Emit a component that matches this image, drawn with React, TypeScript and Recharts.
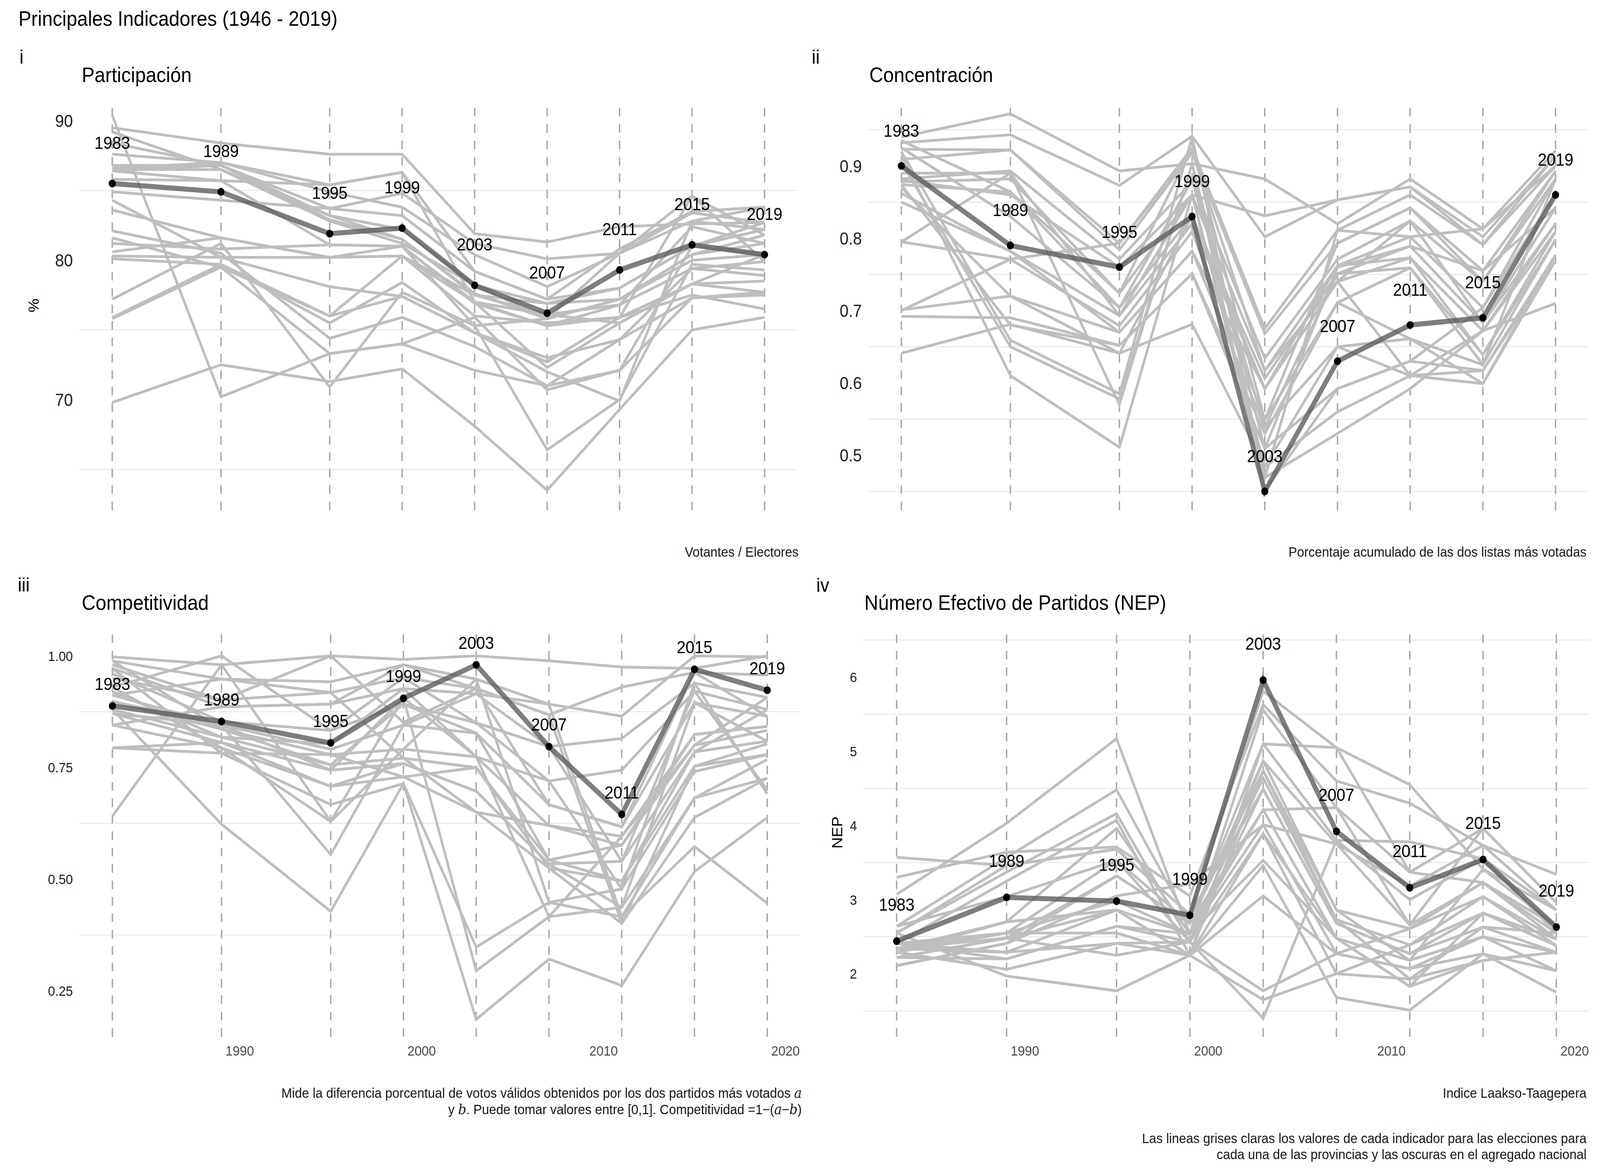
import React from "react";
import {
    LineChart,
    Line,
    XAxis,
    YAxis,
    ReferenceLine,
} from "recharts";

const FONT = "Liberation Sans, Arial, Helvetica, sans-serif";

const years = [1983, 1989, 1995, 1999, 2003, 2007, 2011, 2015, 2019];
const xTicks = [1990, 2000, 2010, 2020];

// Participación (%)
const participacionNacional = [85.5, 84.9, 81.9, 82.3, 78.2, 76.2, 79.3, 81.1, 80.4];
const participacionProvincias = [
    [89.5, 88.4, 87.6, 87.6, 81.9, 81.3, 82.4, 82.6, 82.7],
    [90.4, 70.2, 73.3, 74.0, 72.1, 71.0, 74.3, 77.3, 77.5],
    [69.8, 72.5, 71.3, 72.2, 68.1, 63.5, 69.3, 75.0, 75.9],
    [77.2, 81.2, 70.9, 77.7, 75.3, 66.4, 70.0, 79.7, 79.3],
    [75.9, 79.7, 76.0, 80.3, 77.0, 72.3, 75.5, 78.3, 77.7],
    [88.4, 86.8, 83.7, 83.2, 79.2, 77.2, 80.8, 83.5, 83.8],
    [87.6, 87.0, 84.9, 83.8, 80.4, 78.1, 80.5, 82.8, 82.2],
    [86.8, 86.8, 83.2, 81.5, 77.5, 76.9, 78.0, 81.0, 80.4],
    [86.5, 86.5, 82.8, 81.2, 78.2, 75.8, 77.2, 80.4, 81.2],
    [86.4, 85.7, 81.1, 81.0, 76.9, 75.3, 76.8, 79.4, 78.9],
    [85.8, 85.7, 85.4, 86.3, 77.0, 75.3, 75.9, 84.6, 79.9],
    [84.9, 84.3, 83.7, 84.8, 81.2, 80.1, 80.5, 84.6, 81.8],
    [84.3, 80.2, 78.1, 77.4, 74.8, 72.7, 75.9, 77.5, 76.5],
    [83.6, 81.6, 80.2, 81.0, 77.0, 76.1, 76.8, 82.4, 81.2],
    [82.1, 80.5, 74.4, 75.9, 73.8, 71.0, 72.1, 81.0, 82.2],
    [81.6, 79.5, 76.0, 77.4, 74.8, 73.0, 74.3, 79.4, 79.9],
    [81.2, 80.8, 81.1, 81.0, 75.3, 75.8, 80.5, 83.4, 82.7],
    [80.6, 81.6, 80.2, 80.3, 77.5, 76.1, 75.5, 78.3, 80.4],
    [80.1, 79.7, 75.5, 78.4, 74.8, 72.0, 69.9, 82.8, 83.8],
    [80.3, 80.2, 80.2, 80.3, 76.0, 75.5, 75.9, 78.3, 78.5],
    [86.6, 87.0, 85.4, 86.3, 79.2, 77.2, 78.0, 81.0, 82.7],
    [75.8, 79.5, 73.3, 74.0, 75.9, 70.7, 72.1, 77.3, 77.7],
    [89.2, 86.5, 83.2, 82.2, 78.2, 76.9, 77.2, 80.0, 80.4],
    [86.4, 86.8, 82.9, 81.5, 77.6, 75.8, 77.2, 80.4, 81.8],
];

// Concentración
const concentracionNacional = [0.9, 0.79, 0.76, 0.83, 0.45, 0.63, 0.68, 0.69, 0.86];
const concentracionProvincias = [
    [0.940, 0.972, 0.893, 0.903, 0.882, 0.820, 0.882, 0.813, 0.921],
    [0.932, 0.943, 0.873, 0.941, 0.802, 0.853, 0.871, 0.802, 0.914],
    [0.923, 0.922, 0.793, 0.925, 0.675, 0.811, 0.860, 0.791, 0.900],
    [0.909, 0.922, 0.784, 0.918, 0.668, 0.793, 0.842, 0.755, 0.893],
    [0.882, 0.893, 0.771, 0.878, 0.634, 0.771, 0.824, 0.740, 0.882],
    [0.878, 0.882, 0.724, 0.860, 0.617, 0.762, 0.802, 0.704, 0.882],
    [0.874, 0.864, 0.704, 0.831, 0.606, 0.751, 0.789, 0.683, 0.842],
    [0.862, 0.782, 0.693, 0.820, 0.592, 0.740, 0.773, 0.672, 0.820],
    [0.795, 0.771, 0.679, 0.809, 0.549, 0.711, 0.759, 0.639, 0.809],
    [0.701, 0.720, 0.670, 0.782, 0.538, 0.650, 0.661, 0.625, 0.798],
    [0.692, 0.690, 0.652, 0.751, 0.509, 0.592, 0.630, 0.617, 0.777],
    [0.641, 0.681, 0.641, 0.681, 0.484, 0.560, 0.610, 0.599, 0.769],
    [0.920, 0.659, 0.585, 0.940, 0.469, 0.530, 0.592, 0.672, 0.710],
    [0.905, 0.650, 0.578, 0.903, 0.451, 0.592, 0.630, 0.704, 0.862],
    [0.915, 0.610, 0.511, 0.860, 0.469, 0.811, 0.802, 0.813, 0.900],
    [0.890, 0.890, 0.570, 0.903, 0.509, 0.760, 0.789, 0.755, 0.842],
    [0.880, 0.860, 0.760, 0.860, 0.831, 0.853, 0.871, 0.791, 0.914],
    [0.700, 0.771, 0.793, 0.920, 0.617, 0.740, 0.824, 0.683, 0.820],
    [0.870, 0.720, 0.641, 0.831, 0.592, 0.762, 0.773, 0.639, 0.798],
    [0.925, 0.830, 0.704, 0.880, 0.538, 0.751, 0.759, 0.625, 0.882],
    [0.935, 0.864, 0.724, 0.925, 0.549, 0.793, 0.842, 0.740, 0.893],
    [0.795, 0.890, 0.693, 0.860, 0.484, 0.650, 0.610, 0.617, 0.769],
    [0.874, 0.680, 0.652, 0.751, 0.530, 0.711, 0.661, 0.599, 0.777],
    [0.850, 0.782, 0.670, 0.782, 0.592, 0.740, 0.610, 0.672, 0.809],
];

// Competitividad
const competitividadNacional = [0.888, 0.853, 0.805, 0.905, 0.98, 0.797, 0.645, 0.97, 0.923];
const competitividadProvincias = [
    [0.998, 0.980, 1.000, 0.992, 1.000, 0.989, 0.975, 0.972, 1.000],
    [0.989, 0.948, 0.942, 0.980, 0.948, 0.892, 0.865, 1.000, 0.998],
    [0.980, 0.901, 0.918, 0.951, 0.927, 0.868, 0.930, 0.963, 0.957],
    [0.972, 0.886, 0.892, 0.927, 0.915, 0.797, 0.815, 0.939, 0.907],
    [0.930, 1.000, 0.833, 0.892, 0.850, 0.720, 0.744, 0.921, 0.880],
    [0.912, 0.845, 0.791, 0.845, 0.827, 0.667, 0.617, 0.895, 0.865],
    [0.898, 0.836, 0.779, 0.791, 0.774, 0.620, 0.596, 0.824, 0.842],
    [0.880, 0.818, 0.756, 0.771, 0.750, 0.543, 0.576, 0.800, 0.833],
    [0.871, 0.806, 0.744, 0.759, 0.697, 0.534, 0.540, 0.785, 0.809],
    [0.845, 0.794, 0.708, 0.729, 0.650, 0.525, 0.496, 0.753, 0.803],
    [0.794, 0.782, 0.667, 0.714, 0.348, 0.448, 0.478, 0.741, 0.779],
    [0.641, 0.980, 0.629, 0.906, 0.295, 0.416, 0.437, 0.682, 0.768],
    [0.880, 0.623, 0.428, 0.714, 0.186, 0.321, 0.262, 0.517, 0.638],
    [0.871, 0.845, 0.555, 0.845, 0.915, 0.892, 0.416, 0.573, 0.446],
    [0.950, 0.901, 1.000, 0.851, 0.927, 0.868, 0.401, 0.638, 0.726],
    [0.960, 0.853, 0.833, 0.951, 0.850, 0.797, 0.540, 0.921, 0.700],
    [0.920, 0.818, 0.803, 0.927, 0.774, 0.720, 0.478, 0.939, 0.691],
    [0.845, 0.886, 0.892, 0.980, 0.927, 0.667, 0.617, 0.963, 0.865],
    [0.794, 0.806, 0.708, 0.759, 0.697, 0.534, 0.437, 0.895, 0.809],
    [0.912, 0.948, 0.918, 0.771, 0.650, 0.620, 0.576, 0.824, 0.842],
    [0.989, 0.836, 0.756, 0.892, 0.827, 0.543, 0.496, 0.785, 0.880],
    [0.972, 0.782, 0.779, 0.729, 0.750, 0.525, 0.401, 0.753, 0.779],
    [0.930, 0.794, 0.629, 0.791, 0.948, 0.448, 0.416, 0.682, 0.726],
    [0.898, 0.845, 0.744, 0.906, 0.774, 0.416, 0.596, 0.800, 0.907],
];

// Número Efectivo de Partidos
const nepNacional = [2.44, 3.03, 2.98, 2.79, 5.96, 3.92, 3.16, 3.54, 2.63];
const nepProvincias = [
    [3.57, 3.46, 3.68, 2.80, 5.81, 5.05, 4.55, 3.41, 2.86],
    [3.30, 3.64, 3.71, 3.05, 5.63, 4.60, 4.30, 3.73, 3.34],
    [3.07, 4.03, 5.17, 2.54, 5.56, 4.24, 3.37, 3.96, 2.96],
    [2.64, 3.57, 4.48, 2.68, 5.10, 3.80, 3.00, 3.55, 2.86],
    [2.55, 3.37, 4.16, 2.43, 4.87, 3.75, 2.66, 3.23, 2.55],
    [2.41, 3.25, 4.07, 2.25, 4.74, 2.86, 2.61, 3.04, 2.47],
    [2.34, 2.70, 3.96, 2.54, 4.64, 2.73, 2.39, 2.82, 2.38],
    [2.29, 2.55, 3.53, 2.43, 4.49, 2.68, 2.27, 2.63, 2.29],
    [2.22, 2.48, 3.32, 2.68, 4.21, 2.48, 2.18, 2.50, 2.04],
    [2.11, 2.41, 3.05, 3.21, 4.01, 2.27, 2.07, 2.27, 1.75],
    [2.34, 2.29, 2.86, 2.25, 3.89, 2.00, 1.93, 2.18, 2.29],
    [2.41, 2.20, 2.64, 2.54, 3.53, 2.48, 1.83, 2.82, 2.38],
    [2.29, 2.06, 2.41, 2.25, 3.46, 1.68, 1.51, 2.27, 2.04],
    [2.55, 1.97, 1.77, 2.25, 3.05, 2.27, 2.07, 2.50, 2.29],
    [2.22, 2.48, 2.25, 2.43, 1.77, 2.27, 2.61, 3.23, 2.47],
    [2.34, 2.55, 2.55, 2.25, 1.65, 2.00, 2.39, 3.04, 2.38],
    [2.41, 2.29, 2.41, 2.43, 1.40, 3.80, 3.78, 3.55, 2.55],
    [2.64, 3.04, 3.53, 2.68, 4.87, 2.86, 2.18, 3.41, 2.64],
    [2.29, 2.70, 2.86, 2.54, 4.01, 3.75, 3.18, 3.73, 2.86],
    [2.11, 2.41, 3.32, 2.68, 4.74, 2.73, 1.93, 2.63, 2.55],
    [2.55, 3.46, 3.68, 2.80, 4.49, 2.68, 2.27, 2.82, 2.47],
    [2.22, 2.20, 2.64, 2.43, 3.89, 2.48, 1.83, 2.18, 2.29],
    [2.41, 2.55, 2.98, 2.54, 4.21, 4.24, 2.66, 3.96, 2.96],
    [2.34, 2.48, 2.86, 2.25, 5.10, 5.05, 3.37, 3.23, 2.64],
];

function buildRows(prov: number[][], nat: number[]) {
    return years.map((year, j) => {
        const row: Record<string, number> = { year, nat: nat[j] };
        prov.forEach((s, i) => {
            row["s" + i] = s[j];
        });
        return row;
    });
}

type PanelProps = {
    left: number;
    top: number;
    plotW: number;
    plotH: number;
    prov: number[][];
    nat: number[];
    yDomain: [number, number];
    yTicks: number[];
    yFmt: (v: number) => string;
    grid: number[];
    labelOffset: number;
    showX: boolean;
    tickSize: number;
};

const Y_W = 200;
const X_H = 80;

function Panel(p: PanelProps) {
    const rows = buildRows(p.prov, p.nat);
    const w = Y_W + p.plotW;
    const h = p.plotH + (p.showX ? X_H : 0);

    const renderDot = (d: any) => {
        const { cx, cy, index, payload } = d;
        if (cx == null || cy == null) return <g key={"d" + index} />;
        return (
            <g key={"d" + index}>
                <circle cx={cx} cy={cy} r={10} fill="#000" />
                <text
                    x={cx}
                    y={cy - p.labelOffset + 16}
                    textAnchor="middle"
                    fontSize={45}
                    fontFamily={FONT}
                    fill="#000"
                >
                    {payload.year}
                </text>
            </g>
        );
    };

    return (
        <div style={{ position: "absolute", left: p.left - Y_W, top: p.top }}>
            <LineChart width={w} height={h} data={rows} margin={{ top: 0, right: 0, bottom: 0, left: 0 }}>
                <XAxis
                    dataKey="year"
                    type="number"
                    domain={[1981.2, 2020.8]}
                    ticks={xTicks}
                    hide={!p.showX}
                    height={X_H}
                    axisLine={false}
                    tickLine={false}
                    tickSize={0}
                    tickMargin={22}
                    tick={{ fontSize: 36, fill: "#4D4D4D", fontFamily: FONT }}
                />
                <YAxis
                    type="number"
                    domain={p.yDomain}
                    ticks={p.yTicks}
                    tickFormatter={p.yFmt}
                    width={Y_W}
                    axisLine={false}
                    tickLine={false}
                    tickSize={0}
                    tickMargin={19}
                    tick={{ fontSize: p.tickSize, fill: "#222", fontFamily: FONT }}
                />
                {p.grid.map((g) => (
                    <ReferenceLine key={"g" + g} y={g} stroke="#EBEBEB" strokeWidth={3} />
                ))}
                {years.map((yr) => (
                    <ReferenceLine key={"v" + yr} x={yr} stroke="#A8A8A8" strokeWidth={4} strokeDasharray="22 20" />
                ))}
                {p.prov.map((_, i) => (
                    <Line
                        key={"s" + i}
                        type="linear"
                        dataKey={"s" + i}
                        stroke="#BEBEBE"
                        strokeWidth={7}
                        dot={false}
                        activeDot={false}
                        isAnimationActive={false}
                    />
                ))}
                <Line
                    type="linear"
                    dataKey="nat"
                    stroke="#5A5A5A"
                    strokeOpacity={0.78}
                    strokeWidth={13}
                    dot={renderDot}
                    activeDot={false}
                    isAnimationActive={false}
                />
            </LineChart>
        </div>
    );
}

const ital = { fontStyle: "italic", fontFamily: "DejaVu Serif, Liberation Serif, serif" } as const;

// the layout is drawn on a 4500x3000 canvas and stretched to fill the real viewport
const PAGE_W = 4500;
const PAGE_H = 3000;

export default function App() {
    const vw = typeof window !== "undefined" ? window.innerWidth : PAGE_W;
    const vh = typeof window !== "undefined" ? window.innerHeight : PAGE_H;
    const sx = vw / PAGE_W;
    const sy = vh / PAGE_H;

    return (
        <div style={{ position: "absolute", left: 0, top: 0, width: PAGE_W * sx, height: PAGE_H * sy, overflow: "hidden", background: "#fff" }}>
            <div
                style={{
                    position: "absolute",
                    left: 0,
                    top: 0,
                    width: PAGE_W,
                    height: PAGE_H,
                    background: "#fff",
                    fontFamily: FONT,
                    transform: `scale(${sx}, ${sy})`,
                    transformOrigin: "0 0",
                }}
            >
                <Panel
                    left={224}
                    top={258}
                    plotW={2018}
                    plotH={1048}
                    prov={participacionProvincias}
                    nat={participacionNacional}
                    yDomain={[62.07, 91.43]}
                    yTicks={[70, 80, 90]}
                    yFmt={(v) => String(v)}
                    grid={[65, 75, 85]}
                    labelOffset={105}
                    showX={false}
                    tickSize={45}
                />
                <Panel
                    left={2443}
                    top={258}
                    plotW={2024}
                    plotH={1048}
                    prov={concentracionProvincias}
                    nat={concentracionNacional}
                    yDomain={[0.424, 0.99]}
                    yTicks={[0.5, 0.6, 0.7, 0.8, 0.9]}
                    yFmt={(v) => v.toFixed(1)}
                    grid={[0.45, 0.55, 0.65, 0.75, 0.85, 0.95]}
                    labelOffset={91}
                    showX={false}
                    tickSize={45}
                />
                <Panel
                    left={224}
                    top={1608}
                    plotW={2026}
                    plotH={1046}
                    prov={competitividadProvincias}
                    nat={competitividadNacional}
                    yDomain={[0.147, 1.062]}
                    yTicks={[0.25, 0.5, 0.75, 1.0]}
                    yFmt={(v) => v.toFixed(2)}
                    grid={[0.375, 0.625, 0.875]}
                    labelOffset={57}
                    showX={true}
                    tickSize={36}
                />
                <Panel
                    left={2429}
                    top={1608}
                    plotW={2041}
                    plotH={1046}
                    prov={nepProvincias}
                    nat={nepNacional}
                    yDomain={[1.15, 6.66]}
                    yTicks={[2, 3, 4, 5, 6]}
                    yFmt={(v) => String(v)}
                    grid={[1.5, 2.5, 3.5, 4.5, 5.5, 6.5]}
                    labelOffset={94}
                    showX={true}
                    tickSize={36}
                />
                <svg
                    width={PAGE_W}
                    height={PAGE_H}
                    style={{ position: "absolute", left: 0, top: 0, pointerEvents: "none" }}
                    fontFamily={FONT}
                >
                    <text x={52} y={66} fontSize={54} fill="#000">Principales Indicadores (1946 - 2019)</text>

                    <text x={55} y={163} fontSize={50} fill="#000">i</text>
                    <text x={230} y={210} fontSize={54} fill="#000">Participación</text>
                    <text x={2283} y={163} fontSize={50} fill="#000">ii</text>
                    <text x={2445} y={210} fontSize={54} fill="#000">Concentración</text>
                    <text x={50} y={1514} fontSize={50} fill="#000">iii</text>
                    <text x={230} y={1561} fontSize={54} fill="#000">Competitividad</text>
                    <text x={2296} y={1515} fontSize={50} fill="#000">iv</text>
                    <text x={2431} y={1561} fontSize={54} fill="#000">Número Efectivo de Partidos (NEP)</text>

                    <text x={95} y={782} fontSize={40} fill="#000" textAnchor="middle" dominantBaseline="central" transform="rotate(-90 95 782)">%</text>
                    <text x={2354} y={2131} fontSize={40} fill="#000" textAnchor="middle" dominantBaseline="central" transform="rotate(-90 2354 2131)">NEP</text>

                    <text x={2246} y={1425} fontSize={36} fill="#1a1a1a" textAnchor="end">Votantes / Electores</text>
                    <text x={4462} y={1425} fontSize={36} fill="#1a1a1a" textAnchor="end">Porcentaje acumulado de las dos listas más votadas</text>

                    <text x={2255} y={2810} fontSize={36} fill="#1a1a1a" textAnchor="end">
                        Mide la diferencia porcentual de votos válidos obtenidos por los dos partidos más votados{" "}
                        <tspan style={ital}>a</tspan>
                    </text>
                    <text x={2255} y={2852} fontSize={36} fill="#1a1a1a" textAnchor="end">
                        y <tspan style={ital}>b</tspan>. Puede tomar valores entre [0,1]. Competitividad =1−(
                        <tspan style={ital}>a</tspan>−<tspan style={ital}>b</tspan>)
                    </text>

                    <text x={4462} y={2810} fontSize={36} fill="#1a1a1a" textAnchor="end">Indice Laakso-Taagepera</text>
                    <text x={4462} y={2926} fontSize={36} fill="#1a1a1a" textAnchor="end">
                        Las lineas grises claras los valores de cada indicador para las elecciones para
                    </text>
                    <text x={4462} y={2967} fontSize={36} fill="#1a1a1a" textAnchor="end">
                        cada una de las provincias y las oscuras en el agregado nacional
                    </text>
                </svg>
            </div>
        </div>
    );
}
